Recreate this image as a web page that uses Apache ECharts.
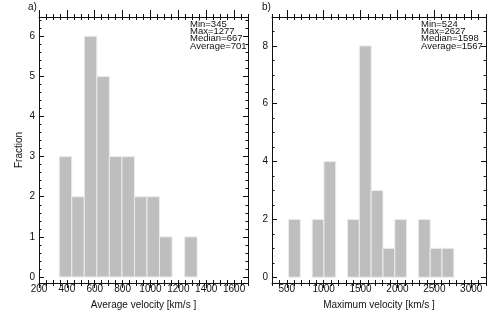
<!DOCTYPE html>
<html>
<head>
<meta charset="utf-8">
<script src="https://cdn.jsdelivr.net/npm/echarts@6/dist/echarts.min.js"></script>
<style>
  html, body { margin: 0; padding: 0; background: #fff; }
  #chart { width: 496px; height: 327px; }
</style>
</head>
<body>
<div id="chart"></div>
<script>
// ---- data: panel a (average velocity) ----
var edgesA  = [345, 435, 525, 615, 705, 795, 885, 975, 1065, 1155, 1245, 1335];
var countsA = [3, 2, 6, 5, 3, 3, 2, 2, 1, 0, 1];
var statsA  = ["Min=345", "Max=1277", "Median=667", "Average=701"];
var xMajorA = [200, 400, 600, 800, 1000, 1200, 1400, 1600];
var yMajorA = [0, 1, 2, 3, 4, 5, 6];

// ---- data: panel b (maximum velocity) ----
var edgesB  = [524, 684, 844, 1004, 1164, 1324, 1484, 1644, 1804, 1964, 2124, 2284, 2444, 2604, 2764];
var countsB = [2, 0, 2, 4, 0, 2, 8, 3, 1, 2, 0, 2, 1, 1];
var statsB  = ["Min=524", "Max=2627", "Median=1598", "Average=1567"];
var xMajorB = [500, 1000, 1500, 2000, 2500, 3000];
var yMajorB = [0, 2, 4, 6, 8];

var FONT = "Liberation Sans, Arial, Helvetica, sans-serif";
var INK  = "#111";

// tick positions helper (axis ticks only)
function steps(a, b, s) {
  var out = [];
  for (var v = a; v <= b + 1e-9; v += s) out.push(Math.round(v * 1000) / 1000);
  return out;
}

function histData(edges, counts) {
  var d = [];
  for (var i = 0; i < counts.length; i++) {
    if (counts[i] > 0) d.push([edges[i], edges[i + 1], counts[i]]);
  }
  return d;
}

function renderBar(params, api) {
  var p0 = api.coord([api.value(0), api.value(2)]);
  var p1 = api.coord([api.value(1), 0]);
  return {
    type: "rect",
    shape: { x: p0[0], y: p0[1], width: p1[0] - p0[0], height: p1[1] - p0[1] },
    style: { fill: "#bebebe", stroke: "#ececec", lineWidth: 1 }
  };
}

function plain(v) { return String(v); }

// x axes for each side: main (line + labels + major ticks out), minor out, all in
function xAxesFor(grid, min, max, majors, minors, name) {
  var all = majors.concat(minors);
  var res = [];
  ["bottom", "top"].forEach(function (pos) {
    var isB = pos === "bottom";
    var base = { type: "value", gridIndex: grid, min: min, max: max, position: pos,
                 splitLine: { show: false } };
    res.push(Object.assign({}, base, {
      axisLine: { show: true, onZero: false, lineStyle: { color: INK, width: 1 } },
      axisTick: { show: true, inside: false, length: isB ? 5 : 7, customValues: majors, lineStyle: { color: INK } },
      axisLabel: { show: isB, customValues: majors, formatter: plain, margin: 1, fontSize: 10, color: INK, fontFamily: FONT },
      name: isB ? name : "",
      nameLocation: "middle",
      nameGap: 17,
      nameTextStyle: { fontSize: 10, color: INK, fontFamily: FONT }
    }));
    res.push(Object.assign({}, base, {
      axisLine: { show: false, onZero: false },
      axisTick: { show: true, inside: false, length: 3, customValues: minors, lineStyle: { color: INK } },
      axisLabel: { show: false }
    }));
    res.push(Object.assign({}, base, {
      axisLine: { show: false, onZero: false },
      axisTick: { show: true, inside: true, length: 3, customValues: all, lineStyle: { color: INK } },
      axisLabel: { show: false }
    }));
  });
  return res;
}

function yAxesFor(grid, min, max, majors, minors, name) {
  var res = [];
  ["left", "right"].forEach(function (pos) {
    var isL = pos === "left";
    var base = { type: "value", gridIndex: grid, min: min, max: max, position: pos,
                 splitLine: { show: false } };
    res.push(Object.assign({}, base, {
      axisLine: { show: true, onZero: false, lineStyle: { color: INK, width: 1 } },
      axisTick: { show: true, inside: true, length: 5, customValues: majors, lineStyle: { color: INK } },
      axisLabel: { show: isL, customValues: majors, formatter: plain, margin: 4, fontSize: 10, color: INK, fontFamily: FONT },
      name: isL ? name : "",
      nameLocation: "middle",
      nameGap: 15,
      nameTextStyle: { fontSize: 10, color: INK, fontFamily: FONT }
    }));
    res.push(Object.assign({}, base, {
      axisLine: { show: false, onZero: false },
      axisTick: { show: true, inside: true, length: 2.5, customValues: minors, lineStyle: { color: INK } },
      axisLabel: { show: false }
    }));
  });
  return res;
}

var xMinorA = steps(200, 1700, 50).filter(function (v) { return xMajorA.indexOf(v) < 0; });
var yMinorA = steps(0, 6.4, 0.2).filter(function (v) { return yMajorA.indexOf(v) < 0; });
var xMinorB = steps(300, 3200, 100).filter(function (v) { return xMajorB.indexOf(v) < 0; });
var yMinorB = steps(0, 9, 0.5).filter(function (v) { return yMajorB.indexOf(v) < 0; });

var xA = xAxesFor(0, 200, 1700, xMajorA, xMinorA, "Average velocity [km/s ]");
var xB = xAxesFor(1, 300, 3200, xMajorB, xMinorB, "Maximum velocity [km/s ]");
var yA = yAxesFor(0, -0.15, 6.48, yMajorA, yMinorA, "Fraction");
var yB = yAxesFor(1, -0.2, 9, yMajorB, yMinorB, "");

var chart = echarts.init(document.getElementById("chart"), null, { renderer: "canvas" });

function statText(x, lines) {
  return {
    type: "text", left: x, top: 19,
    style: { text: lines.join("\n"), font: "9.5px " + FONT, fill: INK, lineHeight: 7.4 }
  };
}

chart.setOption({
  animation: false,
  backgroundColor: "#fff",
  grid: [
    { left: 39, top: 17, width: 209, height: 266 },
    { left: 272, top: 17, width: 214, height: 266 }
  ],
  xAxis: xA.concat(xB),
  yAxis: yA.concat(yB),
  series: [
    { type: "custom", xAxisIndex: 0, yAxisIndex: 0, renderItem: renderBar,
      data: histData(edgesA, countsA), encode: { x: [0, 1], y: 2 }, z: 1 },
    { type: "custom", xAxisIndex: 6, yAxisIndex: 4, renderItem: renderBar,
      data: histData(edgesB, countsB), encode: { x: [0, 1], y: 2 }, z: 1 }
  ],
  graphic: [
    { type: "text", left: 28, top: 2, style: { text: "a)", font: "10px " + FONT, fill: INK } },
    { type: "text", left: 262, top: 2, style: { text: "b)", font: "10px " + FONT, fill: INK } },
    statText(190, statsA),
    statText(421, statsB)
  ]
});
</script>
</body>
</html>
